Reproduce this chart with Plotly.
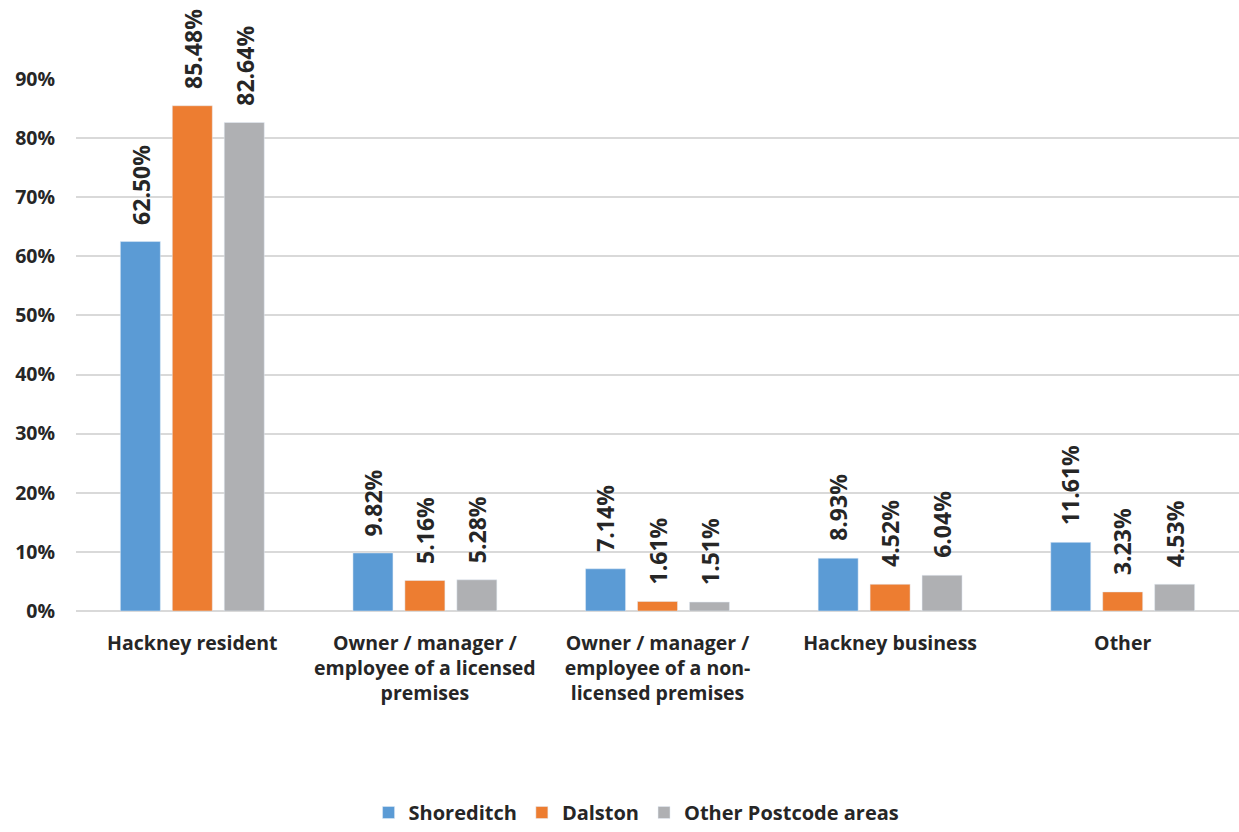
import plotly.graph_objects as go

categories = [
    "Hackney resident",
    "Owner / manager /<br>employee of a licensed<br>premises",
    "Owner / manager /<br>employee of a non-<br>licensed premises",
    "Hackney business",
    "Other",
]
series_names = ["Shoreditch", "Dalston", "Other Postcode areas"]
shoreditch = [0.6250, 0.0982, 0.0714, 0.0893, 0.1161]
dalston = [0.8548, 0.0516, 0.0161, 0.0452, 0.0323]
other_areas = [0.8264, 0.0528, 0.0151, 0.0604, 0.0453]
colors = ["#5B9BD5", "#ED7D31", "#AFB0B3"]

font_family = "Open Sans, Liberation Sans, sans-serif"
text_color = "#262626"
bargap = 0.33
bargroupgap = 0.23

all_series = [shoreditch, dalston, other_areas]
fig = go.Figure()
for name, vals, col in zip(series_names, all_series, colors):
    fig.add_trace(go.Bar(
        name=name, x=categories, y=vals, marker_color=col,
        cliponaxis=False,
    ))

# value labels above each bar (offset to each bar's slot within the group)
n = len(all_series)
slot = (1 - bargap) / n
annotations = []
for i, vals in enumerate(all_series):
    off = (i - (n - 1) / 2) * slot
    for j, v in enumerate(vals):
        annotations.append(dict(
            x=j + off, y=v, xref="x", yref="y",
            text=f"{v*100:.2f}%", showarrow=False, textangle=-90,
            xanchor="center", yanchor="bottom", yshift=15,
            font=dict(family=font_family, size=23, color=text_color, weight="bold"),
        ))

fig.update_layout(
    width=1239, height=832,
    margin=dict(l=76, r=0, t=79, b=217),
    paper_bgcolor="white", plot_bgcolor="white",
    barmode="group", bargap=bargap, bargroupgap=bargroupgap,
    font=dict(family=font_family, color=text_color),
    annotations=annotations,
    legend=dict(
        orientation="h", x=0.482, xanchor="center", y=-0.379, yanchor="middle",
        font=dict(family=font_family, size=20, color=text_color, weight="bold"),
        traceorder="normal",
    ),
    xaxis=dict(
        showgrid=False, showline=False, ticks="",
        tickfont=dict(family=font_family, size=19.5, color=text_color, weight="bold"),
        tickangle=0, ticklabelstandoff=18,
    ),
    yaxis=dict(
        range=[0, 0.9], dtick=0.1, tickformat=".0%",
        showgrid=True, gridcolor="#D9D9D9", gridwidth=1.5,
        zeroline=True, zerolinecolor="#D9D9D9", zerolinewidth=1.5,
        showline=False, ticks="",
        tickfont=dict(family=font_family, size=19.5, color=text_color, weight="bold"),
        ticklabelstandoff=20,
    ),
)

fig.write_html("out.html")
